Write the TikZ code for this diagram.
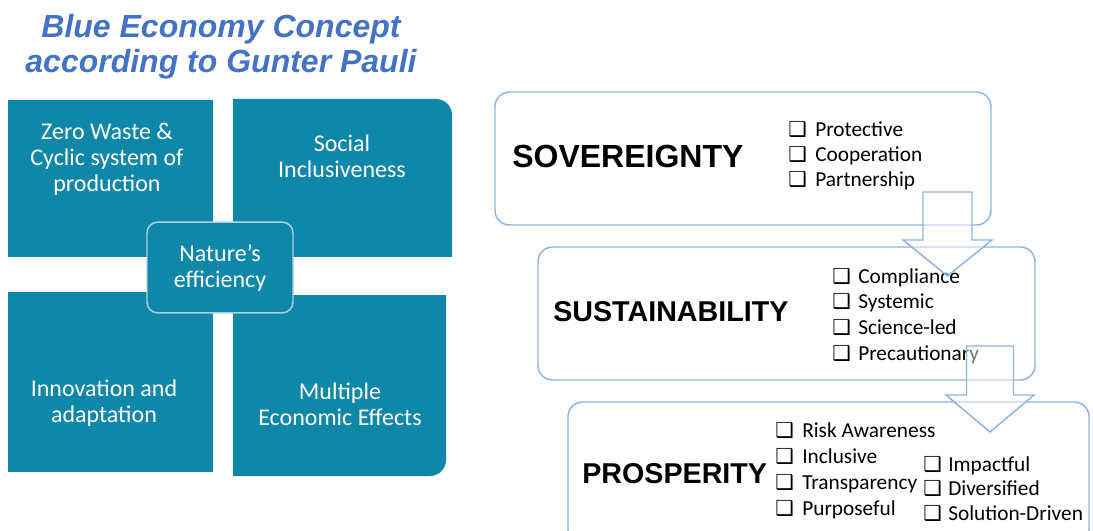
\documentclass[tikz,border=0pt]{standalone}
\usepackage{fontspec}
\setmainfont{Carlito}
\newfontfamily\headfont{Liberation Sans}
\newfontfamily\boxfont{DejaVu Sans}
\usetikzlibrary{fit}

\definecolor{quadteal}{RGB}{14,135,168}
\definecolor{frameblue}{RGB}{141,180,226}
\definecolor{titleblue}{RGB}{68,114,196}
\definecolor{hubline}{RGB}{170,212,226}
\newcommand{\chkbox}{\symbol{"2751}}

\tikzset{
  quad/.style={fill=quadteal},
  quadtext/.style={text=white, align=center, inner sep=0pt, font=\fontsize{18}{19.5}\selectfont},
  hub/.style={fill=quadteal, draw=hubline, line width=1.1pt, rounded corners=8pt,
    minimum width=109.5pt, minimum height=68pt, inner sep=0pt, text=white, align=center,
    font=\fontsize{18}{19.5}\selectfont},
  listbox/.style={draw=frameblue, line width=1.1pt, fill=white, rounded corners=11pt},
  heading/.style={anchor=base west, inner sep=0pt, font=\headfont\bfseries\fontsize{21.5}{24}\selectfont},
  item/.style={anchor=base west, inner sep=0pt, font=\fontsize{16}{19}\selectfont},
  tick/.style={anchor=base west, inner sep=0pt, font=\boxfont\bfseries\fontsize{15.5}{19}\selectfont},
  downarrow/.style={draw=frameblue, line width=1.1pt, fill=white, fill opacity=0.45, line join=miter}
}

\begin{document}
\begin{tikzpicture}[x=0.75pt, y=-0.75pt]
\clip (0,0) rectangle (1093,531);

% title
\node[align=center, inner sep=0pt, text=titleblue,
  font=\headfont\bfseries\itshape\fontsize{24}{26.25}\selectfont] (title) at (221,46.5)
  {Blue Economy Concept\\according to Gunter Pauli};

% four quadrants
\fill[quad] (8,100) rectangle (213,257);
\fill[quad] (233,257) -- (233,99) -- (436,99) arc (-90:0:16) -- (452,257) -- cycle;
\fill[quad] (8,292) rectangle (213,472);
\fill[quad] (233,295) -- (446,295) -- (446,460) arc (0:90:16) -- (233,476) -- cycle;
\node[quadtext] (waste) at (107,159.5) {Zero Waste \&\\Cyclic system of\\production};
\node[quadtext] (social) at (342,156) {Social\\Inclusiveness};
\node[quadtext] (innov) at (104,403) {Innovation and\\adaptation};
\node[quadtext] (multi) at (340,404) {Multiple\\Economic Effects};
\node[hub] (hub) at (220,267.5) {Nature’s\\efficiency};

% three stages
\draw[listbox] (495,92) rectangle (991,225);
\draw[listbox] (538,247) rectangle (1035,380);
\draw[listbox] (568,402) rectangle (1089,545);

\node[heading, font=\headfont\bfseries\fontsize{24}{26}\selectfont] (sov) at (512,168) {SOVEREIGNTY};
\node[heading] (sus) at (553,321) {SUSTAINABILITY};
\node[heading] (pro) at (582,483) {PROSPERITY};

\foreach \txt [count=\i] in {Protective,Cooperation,Partnership} {
  \node[tick] (sov-c\i) at (788,{137+25*(\i-1)}) {\chkbox};
  \node[item] (sov-\i) at (815,{137+25*(\i-1)}) {\txt};
}
\foreach \txt [count=\i] in {Compliance,Systemic,Science-led,Precautionary} {
  \node[tick] (sus-c\i) at (832,{283+25.7*(\i-1)}) {\chkbox};
  \node[item] (sus-\i) at (858,{283+25.7*(\i-1)}) {\txt};
}
\foreach \txt [count=\i] in {Risk Awareness,Inclusive,Transparency,Purposeful} {
  \node[tick] (pro-c\i) at (775,{437+26.3*(\i-1)}) {\chkbox};
  \node[item] (pro-\i) at (802,{437+26.3*(\i-1)}) {\txt};
}
\foreach \txt [count=\i] in {Impactful,Diversified,Solution-Driven} {
  \node[tick] (prob-c\i) at (923,{471+24.5*(\i-1)}) {\chkbox};
  \node[item] (prob-\i) at (948,{471+24.5*(\i-1)}) {\txt};
}

% block arrows between stages
\coordinate (sovout) at (947.5,192);
\coordinate (susout) at (990,346);
\draw[downarrow] (sovout) ++(-24.5,0) -- ++(0,48) -- ++(-20,0) -- ++(44.5,36)
  -- ++(44.5,-36) -- ++(-20,0) -- ++(0,-48) -- cycle;
\draw[downarrow] (susout) ++(-23.5,0) -- ++(0,49) -- ++(-20.5,0) -- ++(44,37)
  -- ++(44,-37) -- ++(-20.5,0) -- ++(0,-49) -- cycle;
\end{tikzpicture}
\end{document}
